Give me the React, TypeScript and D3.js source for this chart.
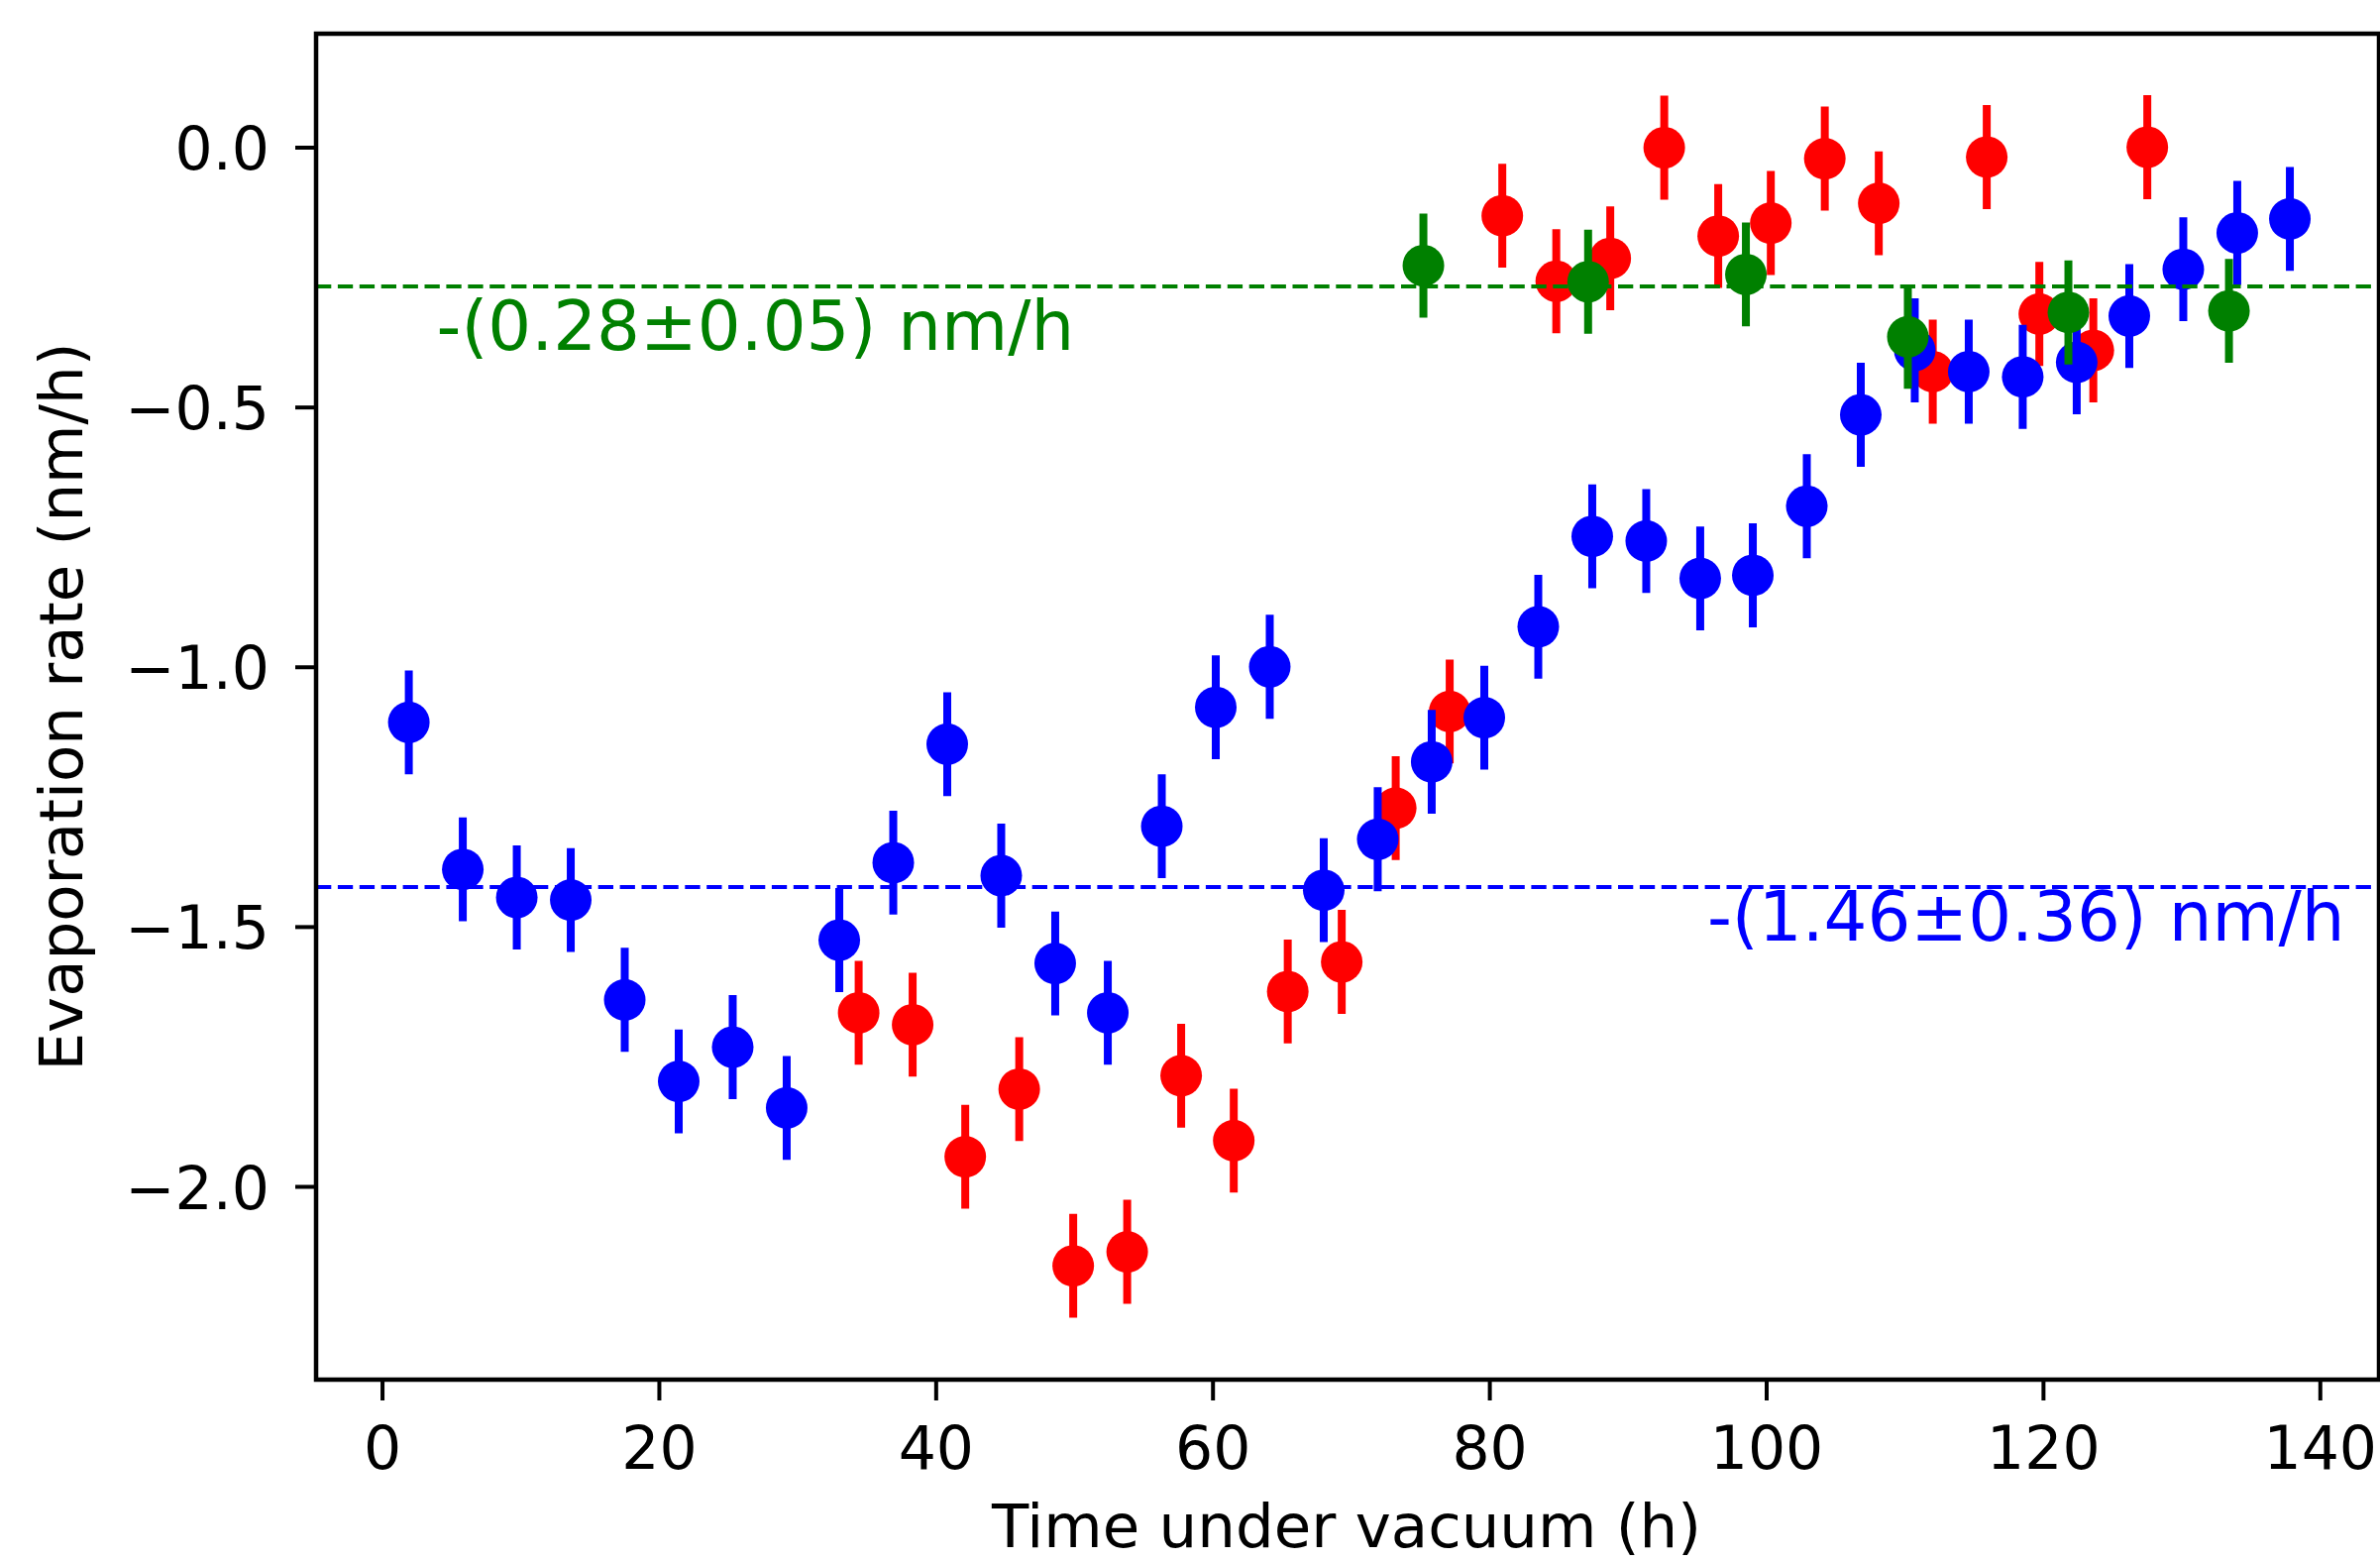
import React, { useEffect, useRef } from 'react';
import * as d3 from 'd3';

const WIDTH = 2402;
const HEIGHT = 1575;

// blue series (time in h, rate in nm/h)
const blueTime = [1.9, 5.8, 9.7, 13.6, 17.5, 21.4, 25.3, 29.2, 33.0, 36.9, 40.8, 44.7,
  48.6, 52.4, 56.3, 60.2, 64.1, 68.0, 71.9, 75.8, 79.6, 83.5, 87.4, 91.3,
  95.2, 99.0, 102.9, 106.8, 110.7, 114.6, 118.5, 122.4, 126.2, 130.1, 134.0, 137.8];
const blueRate = [-1.106, -1.389, -1.443, -1.448, -1.640, -1.797, -1.731, -1.848, -1.525, -1.376, -1.148, -1.401,
  -1.570, -1.665, -1.306, -1.077, -0.999, -1.429, -1.331, -1.182, -1.097, -0.922, -0.748, -0.757,
  -0.829, -0.823, -0.690, -0.514, -0.390, -0.431, -0.441, -0.413, -0.324, -0.234, -0.164, -0.137];

// red series
const redTime = [34.4, 38.3, 42.1, 46.0, 49.9, 53.8, 57.7, 61.5, 65.4, 69.3, 73.2, 77.1,
  80.9, 84.8, 88.7, 92.6, 96.5, 100.3, 104.2, 108.1, 112.0, 115.9, 119.7, 123.6, 127.5];
const redRate = [-1.665, -1.688, -1.942, -1.812, -2.152, -2.125, -1.786, -1.911, -1.624, -1.567, -1.271, -1.085,
  -0.131, -0.257, -0.213, 0.0, -0.170, -0.145, -0.021, -0.107, -0.431, -0.018, -0.320, -0.390, 0.001];

// green series
const greenTime = [75.2, 87.1, 98.5, 110.2, 121.8, 133.4];
const greenRate = [-0.227, -0.258, -0.244, -0.364, -0.317, -0.314];

// every point has the same uncertainty
const rateErr = 0.1;

const xTicks = [0, 20, 40, 60, 80, 100, 120, 140];
const xTickLabels = ['0', '20', '40', '60', '80', '100', '120', '140'];
const yTicks = [0, -0.5, -1.0, -1.5, -2.0];
const yTickLabels = ['0.0', '\u22120.5', '\u22121.0', '\u22121.5', '\u22122.0'];

// fitted mean rates (dashed lines) and their labels
const fits = [
  { level: -0.267, color: '#008000', label: '-(0.28\u00b10.05) nm/h', tx: 3.9, ty: -0.389 },
  { level: -1.423, color: '#0000ff', label: '-(1.46\u00b10.36) nm/h', tx: 95.7, ty: -1.526 },
];

const FONT = 'DejaVu Sans, sans-serif';

const App = () => {
  const ref = useRef<SVGSVGElement | null>(null);

  useEffect(() => {
    const svg = d3.select(ref.current);
    svg.selectAll('*').remove();

    const left = 319;
    const right = 2401;
    const top = 34;
    const bottom = 1392;

    const x = d3.scaleLinear().domain([-4.8, 144.24]).range([left, right]);
    const y = d3.scaleLinear().domain([-2.371, 0.2194]).range([bottom, top]);

    svg.append('rect')
      .attr('width', WIDTH)
      .attr('height', HEIGHT)
      .style('fill', 'white');

    const plot = svg.append('g');

    // draws error bars first, then the markers, like errorbar() does
    const series = (times: number[], rates: number[], color: string) => {
      const pts = times.map((t, i) => ({ t, r: rates[i] }));
      const g = plot.append('g');
      g.selectAll('line')
        .data(pts)
        .enter()
        .append('line')
        .attr('x1', (d) => x(d.t))
        .attr('x2', (d) => x(d.t))
        .attr('y1', (d) => y(d.r - rateErr))
        .attr('y2', (d) => y(d.r + rateErr))
        .style('stroke', color)
        .style('stroke-width', 8);
      g.selectAll('circle')
        .data(pts)
        .enter()
        .append('circle')
        .attr('cx', (d) => x(d.t))
        .attr('cy', (d) => y(d.r))
        .attr('r', 21)
        .style('fill', color);
    };

    series(redTime, redRate, '#ff0000');
    series(blueTime, blueRate, '#0000ff');
    series(greenTime, greenRate, '#008000');

    // dashed fit lines across the axes
    plot.selectAll('.fit')
      .data(fits)
      .enter()
      .append('line')
      .attr('class', 'fit')
      .attr('x1', left)
      .attr('x2', right)
      .attr('y1', (d) => y(d.level))
      .attr('y2', (d) => y(d.level))
      .style('stroke', (d) => d.color)
      .style('stroke-width', 4.2)
      .style('stroke-dasharray', '15.3 6.6');

    plot.selectAll('.fitLabel')
      .data(fits)
      .enter()
      .append('text')
      .attr('class', 'fitLabel')
      .attr('x', (d) => x(d.tx))
      .attr('y', (d) => y(d.ty))
      .text((d) => d.label)
      .style('fill', (d) => d.color)
      .style('font-size', '69px')
      .style('font-family', FONT);

    // spines
    svg.append('rect')
      .attr('x', left)
      .attr('y', top)
      .attr('width', right - left)
      .attr('height', bottom - top)
      .style('fill', 'none')
      .style('stroke', 'black')
      .style('stroke-width', 4.5);

    // x ticks
    const xt = svg.append('g').selectAll('g')
      .data(xTicks)
      .enter()
      .append('g')
      .attr('transform', (d) => `translate(${x(d)},0)`);
    xt.append('line')
      .attr('y1', bottom)
      .attr('y2', bottom + 21)
      .style('stroke', 'black')
      .style('stroke-width', 4);
    xt.append('text')
      .attr('y', 1482)
      .text((d, i) => xTickLabels[i])
      .style('text-anchor', 'middle')
      .style('font-size', '60px')
      .style('font-family', FONT);

    // y ticks
    const yt = svg.append('g').selectAll('g')
      .data(yTicks)
      .enter()
      .append('g')
      .attr('transform', (d) => `translate(0,${y(d)})`);
    yt.append('line')
      .attr('x1', left - 21)
      .attr('x2', left)
      .style('stroke', 'black')
      .style('stroke-width', 4);
    yt.append('text')
      .attr('x', 272)
      .attr('y', 22)
      .text((d, i) => yTickLabels[i])
      .style('text-anchor', 'end')
      .style('font-size', '60px')
      .style('font-family', FONT);

    // axis titles
    svg.append('text')
      .attr('x', 1359)
      .attr('y', 1561)
      .text('Time under vacuum (h)')
      .style('text-anchor', 'middle')
      .style('font-size', '61px')
      .style('font-family', FONT);

    svg.append('text')
      .attr('transform', `translate(83, ${(top + bottom) / 2}) rotate(-90)`)
      .text('Evaporation rate (nm/h)')
      .style('text-anchor', 'middle')
      .style('font-size', '61px')
      .style('font-family', FONT);
  }, []);

  return (
    <svg
      ref={ref}
      width={WIDTH}
      height={HEIGHT}
      style={{ position: 'absolute', left: 0, top: 0, display: 'block' }}
    />
  );
};

export default App;
